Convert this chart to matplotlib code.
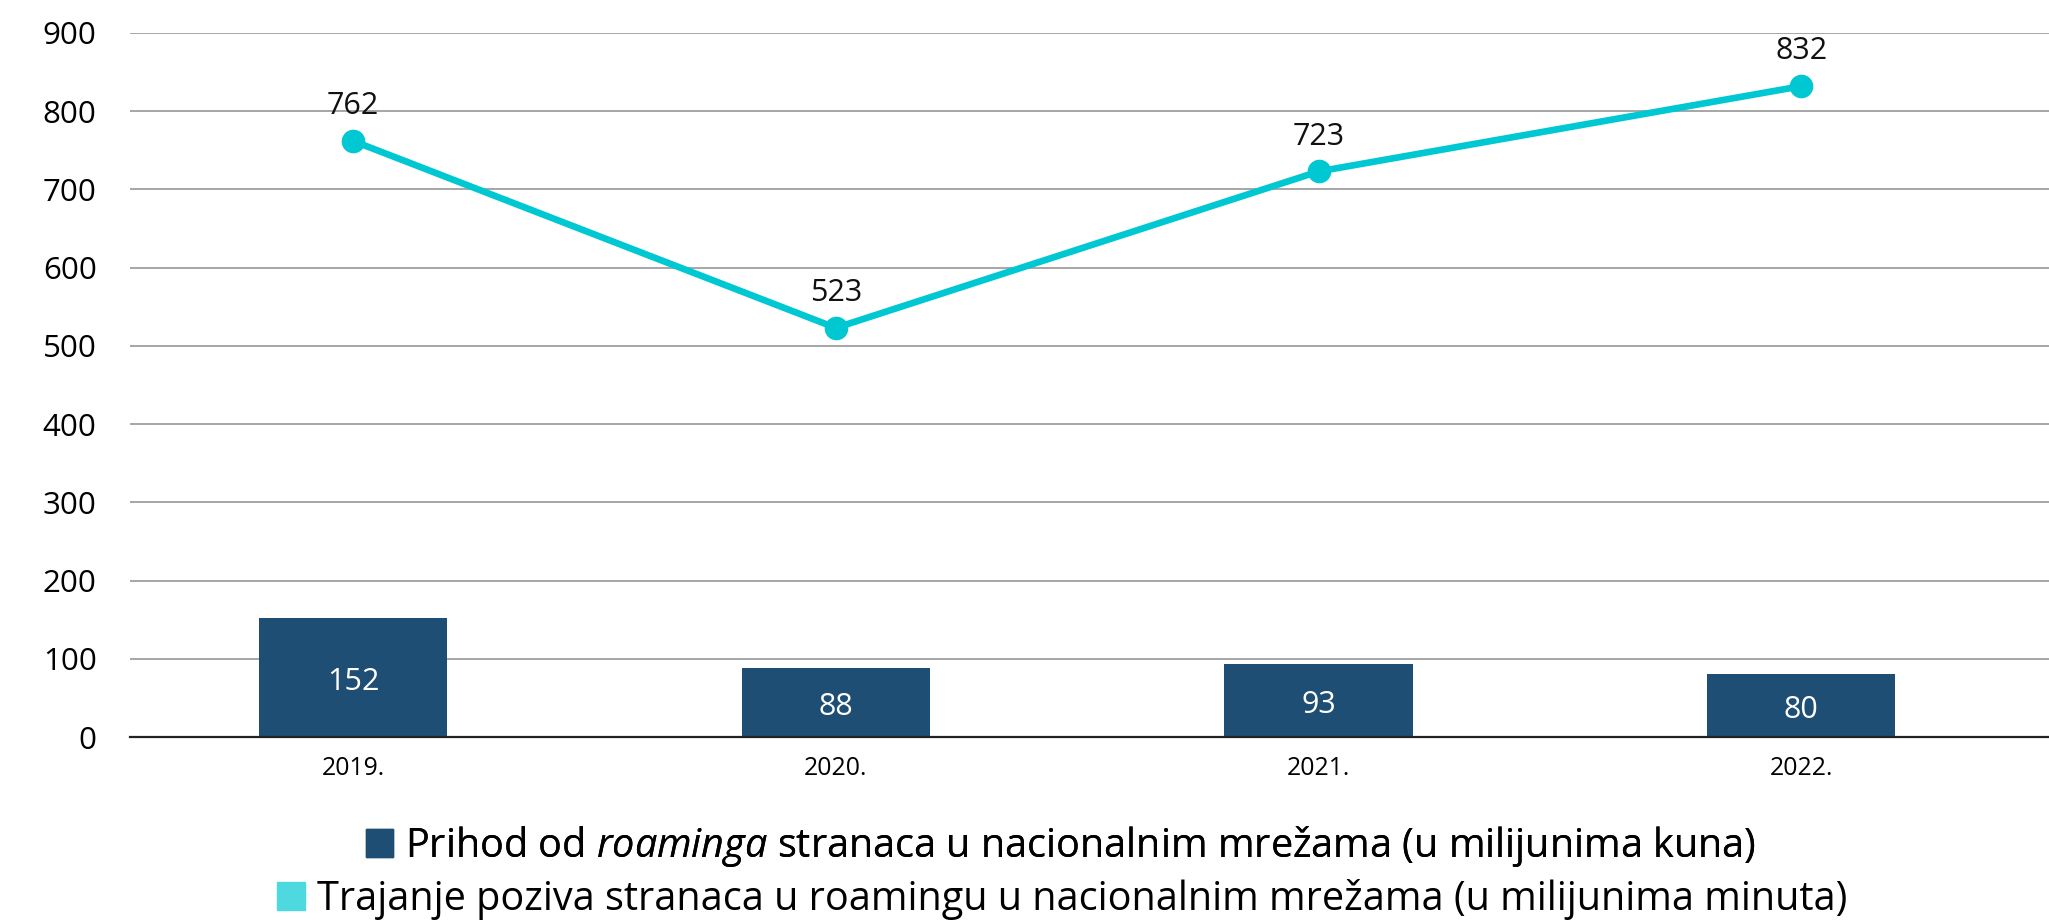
"""Roaming stranaca u nacionalnim mrežama, 2019.-2022. — stupci (prihod) + linija (minute)."""

import matplotlib

matplotlib.use("Agg")
import matplotlib.pyplot as plt  # noqa: E402
from matplotlib.patches import Patch  # noqa: E402

# data
years = ["2019.", "2020.", "2021.", "2022."]
revenue = [152, 88, 93, 80]          # u milijunima kuna
minutes = [762, 523, 723, 832]       # u milijunima minuta
y_ticks = [0, 100, 200, 300, 400, 500, 600, 700, 800, 900]

BAR_COLOR = "#1F4E74"
LINE_COLOR = "#00C8D3"
LINE_PATCH = "#4DD9DF"
GRID = "#A6A6A6"

plt.rcParams["font.family"] = ["Open Sans", "DejaVu Sans"]
plt.rcParams["mathtext.fontset"] = "custom"
plt.rcParams["mathtext.it"] = "Open Sans:italic"
plt.rcParams["mathtext.rm"] = "Open Sans"

fig = plt.figure(figsize=(20.49, 9.22), dpi=100)
ax = fig.add_axes([130 / 2049, 1 - 737 / 922, 1 - 130 / 2049, (737 - 33) / 922])

x = list(range(len(years)))
ax.bar(x, revenue, width=0.39, color=BAR_COLOR, zorder=3)
ax.plot(x, minutes, color=LINE_COLOR, lw=4.8, marker="o", ms=16, zorder=4,
        solid_capstyle="round")

for xi, v in zip(x, revenue):
    ax.annotate(str(v), (xi, v / 2), xytext=(0, -3), textcoords="offset points",
                ha="center", va="center", color="white", fontsize=22, zorder=5)
for xi, v in zip(x, minutes):
    ax.annotate(str(v), (xi, v), xytext=(0, 25), textcoords="offset points",
                ha="center", va="center", fontsize=22, color="#111111")

ax.set_xlim(-0.462, 3.513)
ax.set_ylim(0, 900)
ax.set_yticks(y_ticks)
ax.set_xticks(x)
ax.set_xticklabels(years)
ax.tick_params(axis="y", length=0, pad=24, labelsize=22.5)
ax.tick_params(axis="x", length=0, pad=14, labelsize=17.8)
ax.yaxis.grid(True, color=GRID, lw=1.4, zorder=0)
ax.set_axisbelow(True)
for s in ["top", "right", "left"]:
    ax.spines[s].set_visible(False)
ax.spines["bottom"].set_color("#222222")
ax.spines["bottom"].set_linewidth(1.6)
ax.spines["bottom"].set_zorder(6)

leg_kw = dict(loc="center", frameon=False, fontsize=28.5,
              handlelength=0.7, handleheight=0.7, handletextpad=0.3,
              borderpad=0.1)
leg1 = fig.legend(
    [Patch(color=BAR_COLOR)],
    [r"Prihod od $\it{roaminga}$ stranaca u nacionalnim mrežama (u milijunima kuna)"],
    bbox_to_anchor=(1061 / 2049, 1 - 846 / 922), **leg_kw,
)
fig.add_artist(leg1)
fig.legend(
    [Patch(color=LINE_PATCH)],
    ["Trajanje poziva stranaca u roamingu u nacionalnim mrežama (u milijunima minuta)"],
    bbox_to_anchor=(1062 / 2049, 1 - 899 / 922), **leg_kw,
)

fig.savefig("out.png", dpi=100)
plt.close(fig)
